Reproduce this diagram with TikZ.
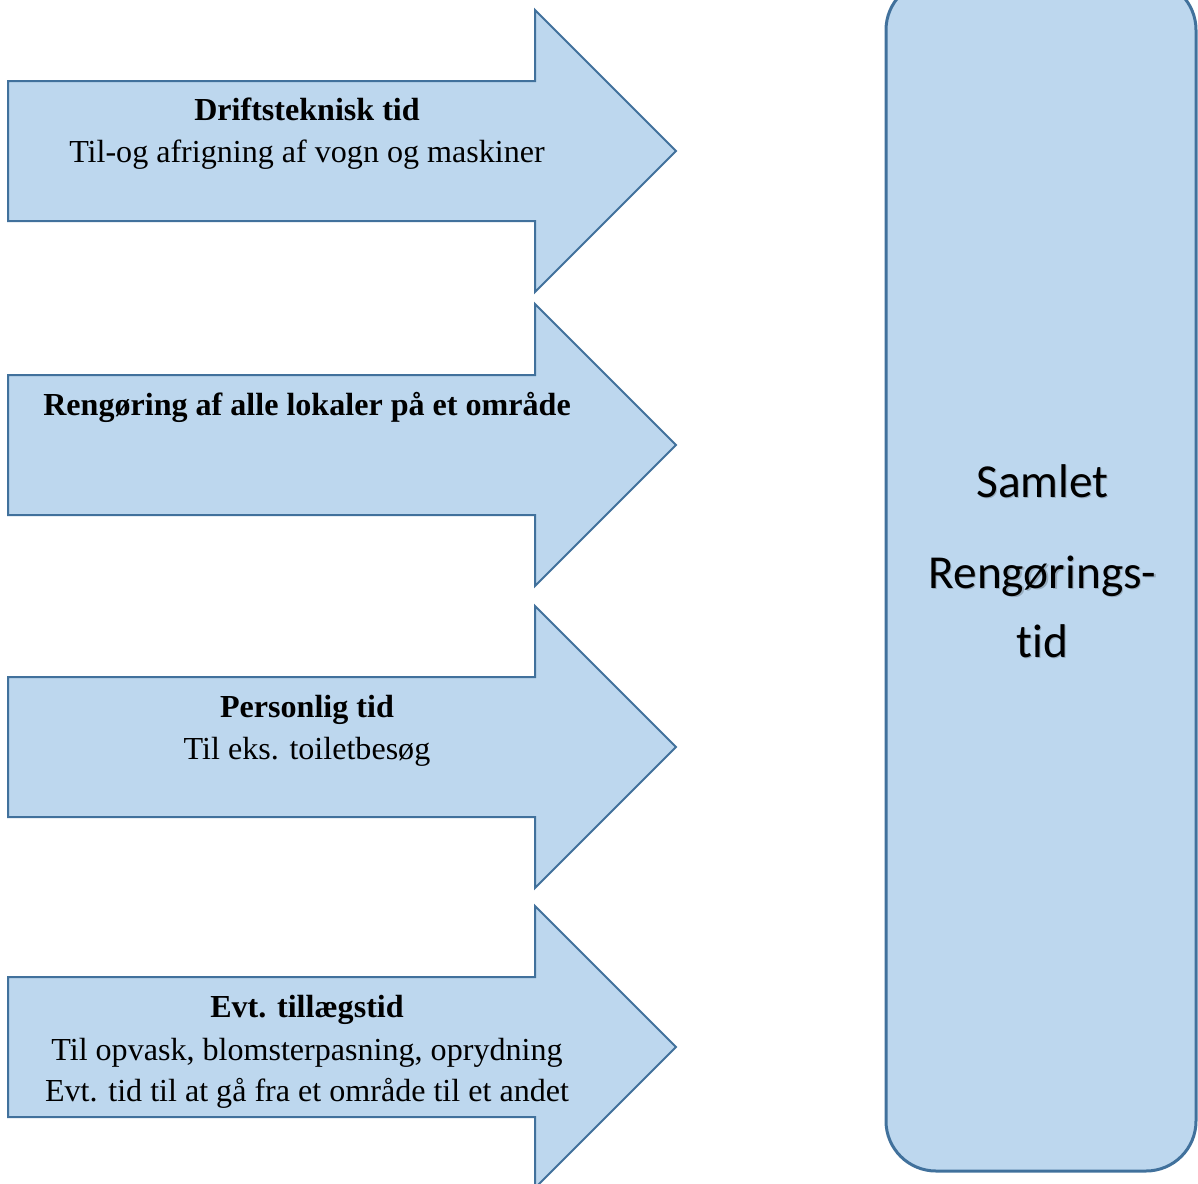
\documentclass[tikz,border=0pt]{standalone}
\usepackage{fontspec}
\setmainfont{Liberation Serif}
\newfontfamily\boxfont[Ligatures=NoCommon]{Carlito}
\definecolor{shapefill}{RGB}{189,215,238}
\definecolor{shapeline}{RGB}{65,113,156}
\begin{document}
\begin{tikzpicture}[x=1bp,y=-1bp,
  bigarrow/.style={fill=shapefill,draw=shapeline,line width=2bp,line join=miter},
  totalbox/.style={fill=shapefill,draw=shapeline,line width=3bp,rounded corners=50bp},
  label/.style={anchor=base,inner sep=0pt,font=\fontsize{32.2}{38}\selectfont},
  bigtext/.style={anchor=base,inner sep=0pt,font=\boxfont\fontsize{47.5}{54}\selectfont},
  bigshadow/.style={bigtext,text=black,opacity=0.2}]
\useasboundingbox (0,0) rectangle (1198,1184);
\clip (0,0) rectangle (1198,1184);

% block arrows, tip height c: body c-70..c+70, head c-141..c+141
\foreach \c in {151,445,747,1047}{
  \draw[bigarrow] (8,\c-70) -- (535,\c-70) -- (535,\c-141) -- (676,\c)
    -- (535,\c+141) -- (535,\c+70) -- (8,\c+70) -- cycle;
}

% total time box
\draw[totalbox] (886,-20) rectangle (1196,1171);

% texts of the arrows
\node[label] (a1t) at (307,120) {\bfseries Driftsteknisk tid};
\node[label] (a1s) at (307,162) {Til-og afrigning af vogn og maskiner};
\node[label] (a2t) at (307,415) {\bfseries Rengøring af alle lokaler på et område};
\node[label] (a3t) at (307,717) {\bfseries Personlig tid};
\node[label] (a3s) at (307,759) {Til eks. toiletbesøg};
\node[label] (a4t) at (307,1017) {\bfseries Evt. tillægstid};
\node[label] (a4s) at (307,1060) {Til opvask, blomsterpasning, oprydning};
\node[label] (a4u) at (307,1101) {Evt. tid til at gå fra et område til et andet};

% text of the box, with a soft drop shadow
\node[bigshadow] (s1) at (1043.7,498.2) {Samlet};
\node[bigshadow] (s2) at (1043.7,589.2) {Rengørings-};
\node[bigshadow] (s3) at (1043.7,658.2) {tid};
\node[bigtext] (b1) at (1042.5,497) {Samlet};
\node[bigtext] (b2) at (1042.5,588) {Rengørings-};
\node[bigtext] (b3) at (1042.5,657) {tid};
\end{tikzpicture}
\end{document}
